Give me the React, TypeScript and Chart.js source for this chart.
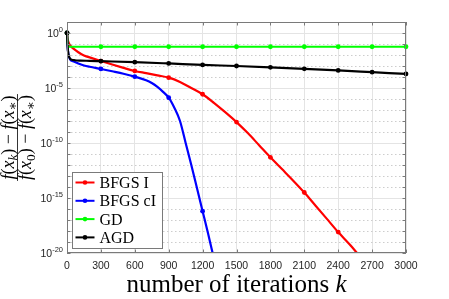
import { useEffect, useRef } from 'react';
import { Chart, registerables } from 'chart.js';

Chart.register(...registerables);

// ---------- data (values stored as log10 of the relative error) ----------
const seriesNames = ['BFGS I', 'BFGS cI', 'GD', 'AGD'];
const seriesColors = ['#ff0000', '#0000ff', '#00ff00', '#000000'];

const bfgsIK = [0, 5, 12, 30, 60, 100, 150, 200, 300, 400, 500, 600, 700, 800, 900, 1000, 1100, 1200, 1300, 1400, 1500, 1600, 1700, 1800, 1900, 2000, 2100, 2200, 2300, 2400, 2500, 2600, 2700];
const bfgsILog = [0, -0.5, -0.8, -1.15, -1.45, -1.75, -2.05, -2.22, -2.55, -2.87, -3.17, -3.45, -3.65, -3.85, -4.06, -4.45, -5.0, -5.57, -6.35, -7.2, -8.1, -9.1, -10.2, -11.3, -12.35, -13.4, -14.5, -15.7, -16.9, -18.1, -19.2, -20.4, -21.6];

const bfgsCIK = [0, 5, 12, 27, 60, 100, 150, 200, 300, 400, 500, 600, 700, 750, 800, 850, 900, 950, 1000, 1050, 1100, 1150, 1200, 1250, 1300];
const bfgsCILog = [0, -1.2, -1.9, -2.4, -2.6, -2.78, -2.95, -3.07, -3.27, -3.48, -3.7, -3.97, -4.3, -4.55, -4.9, -5.35, -5.88, -6.8, -8.0, -10.0, -12.0, -14.1, -16.2, -18.3, -20.5];

const gdK = [0, 8, 300, 600, 900, 1200, 1500, 1800, 2100, 2400, 2700, 3000];
const gdLog = [0, -1.25, -1.25, -1.25, -1.25, -1.25, -1.25, -1.25, -1.25, -1.25, -1.25, -1.25];

const agdK = [0, 3, 6, 10, 15, 25, 40, 70, 120, 200, 300, 600, 900, 1200, 1500, 1800, 2100, 2400, 2700, 3000];
const agdLog = [0, -0.7, -1.3, -1.75, -2.05, -2.3, -2.42, -2.48, -2.51, -2.53, -2.56, -2.65, -2.77, -2.9, -3.0, -3.12, -3.26, -3.4, -3.56, -3.72];

const seriesK = [bfgsIK, bfgsCIK, gdK, agdK];
const seriesLog = [bfgsILog, bfgsCILog, gdLog, agdLog];

const xTicks = [0, 300, 600, 900, 1200, 1500, 1800, 2100, 2400, 2700, 3000];
const yDecades = [1, 0, -1, -2, -3, -4, -5, -6, -7, -8, -9, -10, -11, -12, -13, -14, -15, -16, -17, -18, -19, -20];
const yLabelExps = [0, -5, -10, -15, -20];

const xTitle = 'number of iterations ';
const xTitleVar = 'k';

// ---------- styling ----------
const AXIS_COLOR = '#7a7a7a';
const TICK_TEXT = '#262626';
const MAJOR_GRID = '#e4e4e4';
const MINOR_GRID = '#cdcdcd';

type Part = { t: string; it?: boolean; sub?: boolean };
const numParts: Part[] = [
  { t: 'f', it: true }, { t: '(' }, { t: 'x', it: true }, { t: 'k', it: true, sub: true }, { t: ')' },
  { t: ' \u2212 ' }, { t: 'f', it: true }, { t: '(' }, { t: 'x', it: true }, { t: '\u2217', sub: true }, { t: ')' },
];
const denParts: Part[] = [
  { t: 'f', it: true }, { t: '(' }, { t: 'x', it: true }, { t: '0', sub: true }, { t: ')' },
  { t: ' \u2212 ' }, { t: 'f', it: true }, { t: '(' }, { t: 'x', it: true }, { t: '\u2217', sub: true }, { t: ')' },
];

function partFont(p: Part, size: number) {
  const s = p.sub ? size * 0.74 : size;
  return `${p.it ? 'italic ' : ''}${s}px "Liberation Serif", "DejaVu Serif", serif`;
}
function measureParts(ctx: CanvasRenderingContext2D, parts: Part[], size: number) {
  let w = 0;
  for (const p of parts) {
    ctx.font = partFont(p, size);
    w += ctx.measureText(p.t).width;
  }
  return w;
}
function drawParts(ctx: CanvasRenderingContext2D, parts: Part[], x: number, y: number, size: number) {
  let cx = x;
  for (const p of parts) {
    ctx.font = partFont(p, size);
    ctx.fillText(p.t, cx, p.sub ? y + size * 0.2 : y);
    cx += ctx.measureText(p.t).width;
  }
}

const decorPlugin = {
  id: 'decor',
  afterDatasetsDraw(chart: any) {
    const { ctx, chartArea: a, scales } = chart;
    const xs = scales.x;
    const ys = scales.y;
    ctx.save();
    ctx.strokeStyle = AXIS_COLOR;
    ctx.lineWidth = 1;
    ctx.strokeRect(Math.round(a.left) + 0.5, Math.round(a.top) + 0.5, Math.round(a.right - a.left) - 1, Math.round(a.bottom - a.top) - 1);
    const tl = 3.5;
    ctx.beginPath();
    for (const v of xTicks) {
      const px = Math.round(xs.getPixelForValue(v)) + 0.5;
      ctx.moveTo(px, a.bottom);
      ctx.lineTo(px, a.bottom - tl);
      ctx.moveTo(px, a.top);
      ctx.lineTo(px, a.top + tl);
    }
    for (const e of yDecades) {
      const py = Math.round(ys.getPixelForValue(Math.pow(10, e))) + 0.5;
      ctx.moveTo(a.left, py);
      ctx.lineTo(a.left + tl, py);
      ctx.moveTo(a.right, py);
      ctx.lineTo(a.right - tl, py);
    }
    ctx.stroke();
    ctx.restore();
  },
  afterDraw(chart: any) {
    const { ctx, chartArea: a, scales } = chart;
    const ys = scales.y;
    ctx.save();
    // y tick labels 10^e
    ctx.fillStyle = TICK_TEXT;
    ctx.textBaseline = 'middle';
    ctx.textAlign = 'left';
    for (const e of yLabelExps) {
      const py = ys.getPixelForValue(Math.pow(10, e));
      const expStr = e === 0 ? '0' : '-' + String(-e);
      ctx.font = '7.5px "Liberation Sans", Arial, sans-serif';
      const ew = ctx.measureText(expStr).width;
      ctx.font = '10.5px "Liberation Sans", Arial, sans-serif';
      const bw = ctx.measureText('10').width;
      const right = a.left - 4;
      ctx.fillText('10', right - ew - bw, py + 1.5);
      ctx.font = '7.5px "Liberation Sans", Arial, sans-serif';
      ctx.fillText(expStr, right - ew, py - 3);
    }

    // x title
    ctx.fillStyle = '#000';
    ctx.textBaseline = 'alphabetic';
    ctx.font = '25px "Liberation Serif", "DejaVu Serif", serif';
    const w1 = ctx.measureText(xTitle).width;
    ctx.font = 'italic 25px "Liberation Serif", "DejaVu Serif", serif';
    const w2 = ctx.measureText(xTitleVar).width;
    const cxT = (a.left + a.right) / 2;
    const sx = cxT - (w1 + w2) / 2;
    ctx.font = '25px "Liberation Serif", "DejaVu Serif", serif';
    ctx.fillText(xTitle, sx, 292);
    ctx.font = 'italic 25px "Liberation Serif", "DejaVu Serif", serif';
    ctx.fillText(xTitleVar, sx + w1, 292);

    // y title fraction (rotated)
    const fs = 18;
    ctx.save();
    ctx.translate(17.5, (a.top + a.bottom) / 2);
    ctx.rotate(-Math.PI / 2);
    const nw = measureParts(ctx, numParts, fs);
    const dw = measureParts(ctx, denParts, fs);
    const bar = Math.max(nw, dw) + 2;
    drawParts(ctx, numParts, -nw / 2, -4, fs);
    drawParts(ctx, denParts, -dw / 2, 13.5, fs);
    ctx.strokeStyle = '#000';
    ctx.lineWidth = 0.8;
    ctx.beginPath();
    ctx.moveTo(-bar / 2, 0);
    ctx.lineTo(bar / 2, 0);
    ctx.stroke();
    ctx.restore();

    // legend
    const lx = a.left + 5.5;
    const ly = a.top + 150.5;
    const lw = 90;
    const lh = 76;
    ctx.fillStyle = '#ffffff';
    ctx.fillRect(lx, ly, lw, lh);
    ctx.strokeStyle = AXIS_COLOR;
    ctx.lineWidth = 1;
    ctx.strokeRect(lx, ly, lw, lh);
    chart.data.datasets.forEach((ds: any, i: number) => {
      const yy = ly + 10 + i * 18.3;
      ctx.strokeStyle = ds.borderColor;
      ctx.lineWidth = 2;
      ctx.beginPath();
      ctx.moveTo(lx + 3, yy);
      ctx.lineTo(lx + 22, yy);
      ctx.stroke();
      ctx.fillStyle = ds.borderColor;
      ctx.beginPath();
      ctx.arc(lx + 12.5, yy, 2.3, 0, Math.PI * 2);
      ctx.fill();
      ctx.fillStyle = '#000';
      ctx.font = '16px "Liberation Serif", "DejaVu Serif", serif';
      ctx.textBaseline = 'alphabetic';
      ctx.fillText(ds.label, lx + 27, yy + 5.5);
    });
    ctx.restore();
  },
};

export default function App() {
  const ref = useRef<HTMLCanvasElement | null>(null);
  useEffect(() => {
    const canvas = ref.current;
    if (!canvas) return;
    const datasets = seriesNames.map((name, i) => ({
      label: name,
      data: seriesK[i].map((k, j) => ({ x: k, y: Math.pow(10, seriesLog[i][j]) })),
      borderColor: seriesColors[i],
      backgroundColor: seriesColors[i],
      borderWidth: 2.2,
      pointRadius: (c: any) => (c.raw && xTicks.includes(c.raw.x) ? 2.4 : 0),
      pointBorderWidth: 0,
      pointHoverRadius: 0,
      cubicInterpolationMode: 'monotone',
      order: seriesNames.length - i,
      clip: { left: 5, right: 5, top: 5, bottom: 0 },
    }));
    const chart = new Chart(canvas, {
      type: 'line',
      data: { datasets },
      options: {
        animation: false,
        responsive: false,
        maintainAspectRatio: false,
        devicePixelRatio: 1,
        events: [],
        layout: { padding: { left: 0, right: 43, top: 22, bottom: 0 } },
        plugins: { legend: { display: false }, tooltip: { enabled: false }, title: { display: false } },
        scales: {
          x: {
            type: 'linear',
            min: 0,
            max: 3000,
            afterBuildTicks: (s: any) => {
              s.ticks = xTicks.map((v) => ({ value: v }));
            },
            afterFit: (s: any) => {
              s.height = 46;
            },
            ticks: {
              autoSkip: false,
              maxRotation: 0,
              padding: 7,
              color: TICK_TEXT,
              font: { family: '"Liberation Sans", Arial, sans-serif', size: 10.5 },
              callback: (v: any) => String(v),
            },
            grid: { color: MAJOR_GRID, drawTicks: false, lineWidth: 1 },
            border: { display: false },
          },
          y: {
            type: 'logarithmic',
            min: 1e-20,
            max: 10,
            afterBuildTicks: (s: any) => {
              s.ticks = yDecades.map((e) => ({ value: Math.pow(10, e) }));
            },
            afterFit: (s: any) => {
              s.width = 67;
            },
            ticks: { display: false },
            grid: {
              drawTicks: false,
              lineWidth: 1,
              color: (c: any) => {
                if (!c.tick) return MAJOR_GRID;
                const e = Math.round(Math.log10(c.tick.value));
                return e % 5 === 0 ? MAJOR_GRID : MINOR_GRID;
              },
            },
            border: {
              display: false,
              dash: (c: any) => {
                if (!c.tick) return [];
                const e = Math.round(Math.log10(c.tick.value));
                return e % 5 === 0 ? [] : [1.5, 2.5];
              },
            },
          },
        },
      } as any,
      plugins: [decorPlugin],
    });
    return () => chart.destroy();
  }, []);
  return (
    <div style={{ position: 'absolute', left: 0, top: 0, width: 449, height: 299, background: '#fff' }}>
      <canvas ref={ref} width={449} height={299} style={{ display: 'block', width: 449, height: 299 }} />
    </div>
  );
}
